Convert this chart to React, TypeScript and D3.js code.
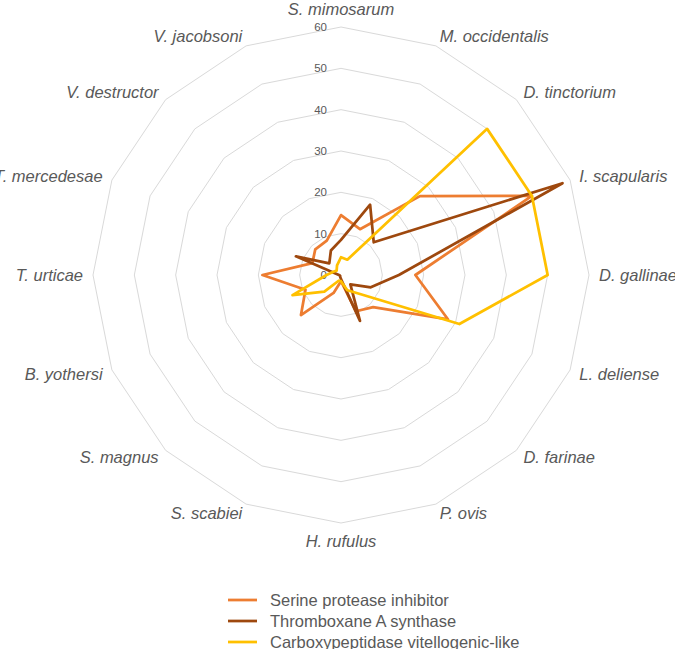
import * as d3 from "d3";

const categories = [
  "S. mimosarum", "M. occidentalis", "D. tinctorium", "I. scapularis",
  "D. gallinae", "L. deliense", "D. farinae", "P. ovis",
  "H. rufulus", "S. scabiei", "S. magnus", "B. yothersi",
  "T. urticae", "T. mercedesae", "V. destructor", "V. jacobsoni",
];

const serine = [14.5, 12, 27, 50, 18, 28, 11, 9.5, 1.5, 4.7, 13.7, 9.3, 19, 7.5, 8.8, 9];
const thromboxane = [8.5, 18.4, 11.2, 58, 14, 7.8, 3.2, 12, 1, 0.5, 0.3, 0.3, 0.5, 11.8, 4, 6.4];
const carboxy = [4.3, 4, 50, 50, 50, 31, 6.5, 4, 1.5, 1.5, 5.7, 12.7, 3.5, 2, 1.5, 2.5];

const seriesNames = ["Serine protease inhibitor", "Thromboxane A synthase", "Carboxypeptidase vitellogenic-like"];
const seriesColors = ["#ED7D31", "#9E480E", "#FFC000"];
const ticks = [0, 10, 20, 30, 40, 50, 60];

const W = 675;
const H = 649;
const cx = 341;
const cy = 275;
const R = 248;
const textColor = "#595959";
const font = "'Liberation Sans', Arial, sans-serif";

export default function App() {
  const n = categories.length;
  const r = d3.scaleLinear().domain([0, 60]).range([0, R]);
  const angle = (i: number) => (i * 2 * Math.PI) / n;

  // one closed radial line for grid rings and series alike
  const radial = d3
    .lineRadial<number>()
    .angle((_, i) => angle(i))
    .radius((d) => r(d))
    .curve(d3.curveLinearClosed);

  const allSeries = [serine, thromboxane, carboxy];

  return (
    <svg width={W} height={H} style={{ position: "absolute", left: 0, top: 0 }} fontFamily={font}>
      <g transform={`translate(${cx},${cy})`}>
        {ticks.slice(1).map((t) => (
          <path key={t} d={radial(categories.map(() => t)) || ""} fill="none" stroke="#D9D9D9" strokeWidth={1} />
        ))}
        {ticks.map((t) => (
          <text key={t} x={-14} y={-r(t)} dy="0.35em" textAnchor="end" fontSize={11.5} fill={textColor}>
            {t}
          </text>
        ))}
        {allSeries.map((s, k) => (
          <path
            key={k}
            d={radial(s) || ""}
            fill="none"
            stroke={seriesColors[k]}
            strokeWidth={2.75}
            strokeLinejoin="round"
          />
        ))}
        {categories.map((c, i) => {
          const a = angle(i);
          const sn = Math.sin(a);
          const cs = Math.cos(a);
          const lr = R + 10;
          const anchor = sn > 0.1 ? "start" : sn < -0.1 ? "end" : "middle";
          const extra = Math.abs(sn) < 0.1 ? -cs * 8 : 0;
          return (
            <text
              key={c}
              x={lr * sn}
              y={-lr * cs + extra}
              dy="0.35em"
              textAnchor={anchor}
              fontSize={16.5}
              fontStyle="italic"
              fill={textColor}
            >
              {c}
            </text>
          );
        })}
      </g>
      {seriesNames.map((name, k) => (
        <g key={name} transform={`translate(228,${600 + k * 21})`}>
          <line x1={0} x2={29} y1={0} y2={0} stroke={seriesColors[k]} strokeWidth={2.75} />
          <text x={42} y={0} dy="0.35em" fontSize={16.5} fill={textColor}>
            {name}
          </text>
        </g>
      ))}
    </svg>
  );
}
